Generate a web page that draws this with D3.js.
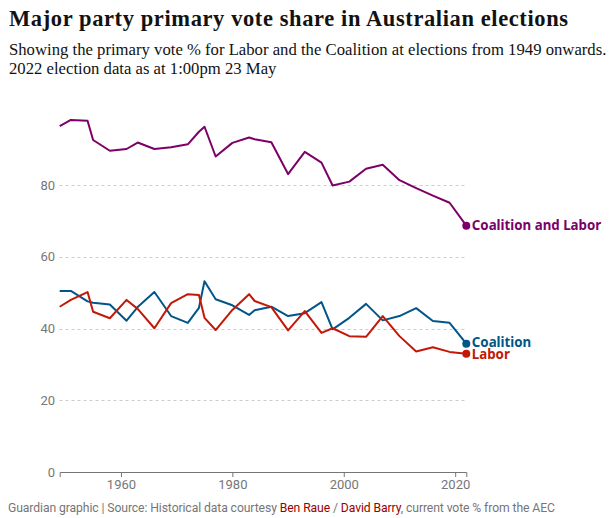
<!DOCTYPE html>
<html>
<head>
<meta charset="utf-8">
<script src="https://cdn.jsdelivr.net/npm/d3@7"></script>
<style>
  body { margin: 0; background: #fff; }
  svg text { font-family: Roboto, "Noto Sans", sans-serif; }
</style>
</head>
<body>
<svg id="chart" width="615" height="518"></svg>
<script>
// Election years and primary vote shares (%)
var years = [1949, 1951, 1954, 1955, 1958, 1961, 1963, 1966, 1969, 1972, 1974, 1975, 1977, 1980,
  1983, 1984, 1987, 1990, 1993, 1996, 1998, 2001, 2004, 2007, 2010, 2013, 2016, 2019, 2022];
var coalition = [50.5, 50.5, 47.6, 47.2, 46.7, 42.2, 46.0, 50.2, 43.5, 41.6, 45.8, 53.2, 48.2, 46.5,
  43.8, 45.1, 46.1, 43.5, 44.3, 47.4, 39.8, 43.0, 46.9, 42.3, 43.5, 45.7, 42.1, 41.6, 35.8];
var labor = [46.1, 48.0, 50.2, 44.7, 42.9, 48.0, 45.5, 40.1, 47.1, 49.6, 49.4, 43.0, 39.6, 45.2,
  49.6, 47.7, 46.0, 39.5, 44.9, 38.8, 40.1, 37.9, 37.7, 43.5, 37.9, 33.6, 34.8, 33.5, 33.0];
var combined = [96.5, 98.2, 98.0, 92.6, 89.6, 90.1, 91.9, 90.1, 90.6, 91.4, 94.9, 96.3, 88.0, 91.8,
  93.3, 92.8, 92.0, 83.1, 89.3, 86.3, 79.9, 81.0, 84.6, 85.7, 81.4, 79.2, 77.1, 75.1, 68.7];
var yTicks = [0, 20, 40, 60, 80];
var xTicks = [1960, 1980, 2000, 2020];

var series = [
  { name: "Coalition and Labor", values: combined, color: "#7d0068", dy: 4.5 },
  { name: "Coalition", values: coalition, color: "#005689", dy: 3 },
  { name: "Labor", values: labor, color: "#c21807", dy: 5.5 }
];

var svg = d3.select("#chart");

// Headings
svg.append("text")
  .attr("x", 9).attr("y", 26)
  .style("font-family", "'Liberation Serif', serif")
  .style("font-weight", "bold")
  .style("font-size", "22.5px")
  .style("letter-spacing", "0.6px")
  .attr("fill", "#121212")
  .text("Major party primary vote share in Australian elections");

svg.append("text")
  .attr("x", 9).attr("y", 55)
  .style("font-family", "'Liberation Serif', serif")
  .style("font-size", "16.7px")
  .attr("fill", "#121212")
  .text("Showing the primary vote % for Labor and the Coalition at elections from 1949 onwards.");

svg.append("text")
  .attr("x", 9).attr("y", 74)
  .style("font-family", "'Liberation Serif', serif")
  .style("font-size", "16.7px")
  .attr("fill", "#121212")
  .text("2022 election data as at 1:00pm 23 May");

// Scales
var x = d3.scaleLinear().domain([1949, 2022]).range([59.7, 466.3]);
var y = d3.scaleLinear().domain([0, 100]).range([472, 113.5]);

// Gridlines
svg.append("g")
  .selectAll("line")
  .data(yTicks.filter((d) => d > 0))
  .join("line")
  .attr("x1", 59.5).attr("x2", 466)
  .attr("y1", (d) => Math.round(y(d)) + 0.5)
  .attr("y2", (d) => Math.round(y(d)) + 0.5)
  .attr("stroke", "#cccccc")
  .attr("stroke-dasharray", "3,3");

// Y labels
svg.append("g")
  .selectAll("text")
  .data(yTicks)
  .join("text")
  .attr("x", 55)
  .attr("y", (d) => y(d) + 4.5)
  .attr("text-anchor", "end")
  .attr("fill", "#767676")
  .style("font-size", "13px")
  .text((d) => d);

// X axis
var xAxis = d3.axisBottom(x)
  .tickValues(xTicks)
  .tickFormat(d3.format("d"))
  .tickSize(5)
  .tickSizeOuter(5);

var gx = svg.append("g")
  .attr("transform", "translate(0,472)")
  .call(xAxis);
gx.select(".domain").attr("stroke", "#767676");
gx.selectAll(".tick line").attr("stroke", "#767676");
gx.selectAll(".tick text")
  .attr("fill", "#767676")
  .attr("dy", "0")
  .attr("y", 17)
  .style("font-family", "Roboto, sans-serif")
  .style("font-size", "13px");

// Lines
var line = d3.line()
  .x((d, i) => x(years[i]))
  .y((d) => y(d));

series.forEach((s) => {
  svg.append("path")
    .datum(s.values)
    .attr("fill", "none")
    .attr("stroke", s.color)
    .attr("stroke-width", 2)
    .attr("stroke-linejoin", "round")
    .attr("d", line);

  var last = s.values.length - 1;
  svg.append("circle")
    .attr("cx", x(years[last]))
    .attr("cy", y(s.values[last]))
    .attr("r", 4)
    .attr("fill", s.color);

  svg.append("text")
    .attr("x", x(years[last]) + 5.5)
    .attr("y", y(s.values[last]) + s.dy)
    .attr("fill", s.color)
    .style("font-family", "'Noto Sans', sans-serif")
    .style("font-weight", "bold")
    .style("font-size", "13.3px")
    .text(s.name);
});

// Footer
var foot = svg.append("text")
  .attr("x", 8).attr("y", 512)
  .attr("fill", "#767676")
  .style("font-size", "12.2px")
  .style("letter-spacing", "-0.1px");
foot.append("tspan").text("Guardian graphic | Source: Historical data courtesy ");
foot.append("tspan").attr("fill", "#990000").text("Ben Raue");
foot.append("tspan").text(" / ");
foot.append("tspan").attr("fill", "#990000").text("David Barry");
foot.append("tspan").text(", current vote % from the AEC");
</script>
</body>
</html>
